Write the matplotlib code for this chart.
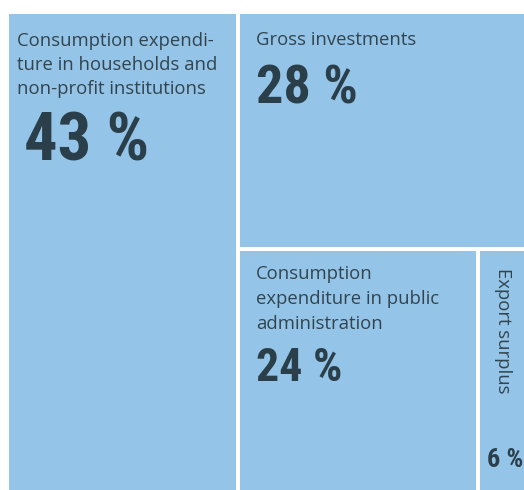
import matplotlib.pyplot as plt
from matplotlib.patches import Rectangle

# Data
categories = ['Consumption expenditure in households and non-profit institutions',
              'Gross investments',
              'Consumption expenditure in public administration',
              'Export surplus']
label_lines = [['Consumption expendi-', 'ture in households and', 'non-profit institutions'],
               ['Gross investments'],
               ['Consumption', 'expenditure in public', 'administration'],
               ['Export surplus']]
pct_labels = [43, 28, 24, 6]
# rectangle areas as measured in the picture (labels are rounded)
areas = [44.5, 27.4, 23.4, 4.7]

BLUE = '#94c4e8'
TXT = '#32454e'
NUM = '#2a3f49'
GAP = 4
LAB_SIZE = 13.3

fig = plt.figure(figsize=(5.24, 4.9), dpi=100)
ax = fig.add_axes([0, 0, 1, 1])
ax.set_xlim(0, 524)
ax.set_ylim(490, 0)
ax.axis('off')

# outer box of the treemap (pixel units), half-gap included
x0, y0, x1, y1 = 7, 12, 526, 492
total = sum(areas)
xs = x0 + (x1 - x0) * areas[0] / total
ys = y0 + (y1 - y0) * areas[1] / sum(areas[1:])
xm = xs + (x1 - xs) * areas[2] / (areas[2] + areas[3])

boxes = [(x0, y0, xs, y1), (xs, y0, x1, ys), (xs, ys, xm, y1), (xm, ys, x1, y1)]
for (a, b, c, d) in boxes:
    ax.add_patch(Rectangle((a + GAP / 2, b + GAP / 2), c - a - GAP, d - b - GAP,
                           facecolor=BLUE, edgecolor='none'))

lab_font = ['Open Sans', 'DejaVu Sans']
num_font = ['Roboto Condensed', 'Liberation Sans Narrow', 'DejaVu Sans']

# text offsets relative to each box: (dx, first baseline dy, line step, number baseline dy, number size)
styles = [(10, 34, 24, 148, 48),
          (18, 33, 24, 91, 39),
          (18, 30, 25, 132, 33)]
for i in range(3):
    a, b = boxes[i][0], boxes[i][1]
    dx, dy, step, ndy, nsz = styles[i]
    for j, line in enumerate(label_lines[i]):
        ax.text(a + dx, b + dy + j * step, line, fontsize=LAB_SIZE, family=lab_font,
                color=TXT, va='baseline', ha='left')
    ax.text(a + dx + (7 if i == 0 else 0), b + ndy, f'{pct_labels[i]} %', fontsize=nsz,
            family=num_font, weight='bold', color=NUM, va='baseline', ha='left')

# small export-surplus box: rotated label and number at the bottom
a, b, c, d = boxes[3]
ax.text(a + 20, b + 19, label_lines[3][0], fontsize=LAB_SIZE, family=lab_font, color=TXT,
        rotation=-90, rotation_mode='anchor', va='baseline', ha='left')
ax.text(a + 9, d - 25, f'{pct_labels[3]} %', fontsize=19, family=num_font,
        weight='bold', color=NUM, va='baseline', ha='left')

fig.savefig('out.png', dpi=100)
